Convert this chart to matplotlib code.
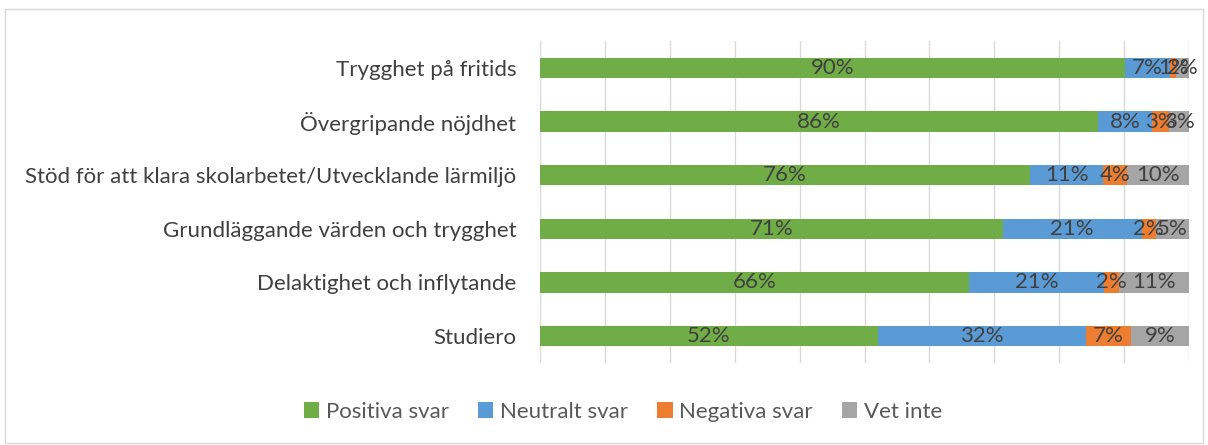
import numpy as np
import matplotlib.pyplot as plt
from matplotlib.patches import Rectangle

categories = [
    "Trygghet på fritids",
    "Övergripande nöjdhet",
    "Stöd för att klara skolarbetet/Utvecklande lärmiljö",
    "Grundläggande värden och trygghet",
    "Delaktighet och inflytande",
    "Studiero",
]
series_names = ["Positiva svar", "Neutralt svar", "Negativa svar", "Vet inte"]
# shares in percent (labels are rounded)
positiva = [90.1, 86.0, 75.5, 71.3, 66.1, 52.1]
neutralt = [7.0, 8.3, 11.3, 21.4, 20.8, 32.0]
negativa = [0.9, 2.6, 3.7, 2.2, 2.3, 6.9]
vet_inte = [2.0, 3.1, 9.5, 5.1, 10.8, 9.0]
colors = ["#70ad47", "#5b9bd5", "#ed7d31", "#a5a5a5"]

plt.rcParams["font.family"] = ["Lato", "DejaVu Sans"]
FS = 16

fig = plt.figure(figsize=(12.08, 4.45), dpi=100)
ax = fig.add_axes([540 / 1208, 1 - 363 / 445, 649 / 1208, 322 / 445])

y = np.arange(len(categories))[::-1]
left = np.zeros(len(categories))
for name, vals, col in zip(series_names, [positiva, neutralt, negativa, vet_inte], colors):
    vals = np.array(vals, dtype=float)
    ax.barh(y, vals, left=left, height=0.38, color=col, label=name, zorder=3)
    for yi, l, v in zip(y, left, vals):
        ax.text(l + v / 2, yi, f"{int(v + 0.5)}%", ha="center", va="center",
                fontsize=FS, color="#404040", zorder=4)
    left += vals

ax.set_xlim(0, 100)
ax.set_ylim(-0.5, len(categories) - 0.5)
ax.set_xticks(np.arange(0, 101, 10))
ax.xaxis.grid(True, color="#d9d9d9", linewidth=1, zorder=0)
ax.tick_params(axis="x", length=0, labelbottom=False)
ax.set_yticks(y)
ax.set_yticklabels(categories, fontsize=FS, color="#404040")
ax.tick_params(axis="y", length=0, pad=17)
for s in ax.spines.values():
    s.set_visible(False)

fig.legend(loc="center", bbox_to_anchor=(623 / 1208, 1 - 412 / 445), ncol=4, frameon=False,
           fontsize=FS, labelcolor="#595959", handlelength=0.7, handleheight=0.7,
           handletextpad=0.3, columnspacing=1.3)

fig.patches.append(Rectangle((0.004, 0.004), 0.992, 0.975, transform=fig.transFigure,
                             fill=False, edgecolor="#d9d9d9", linewidth=1))

fig.savefig("out.png", dpi=100)
